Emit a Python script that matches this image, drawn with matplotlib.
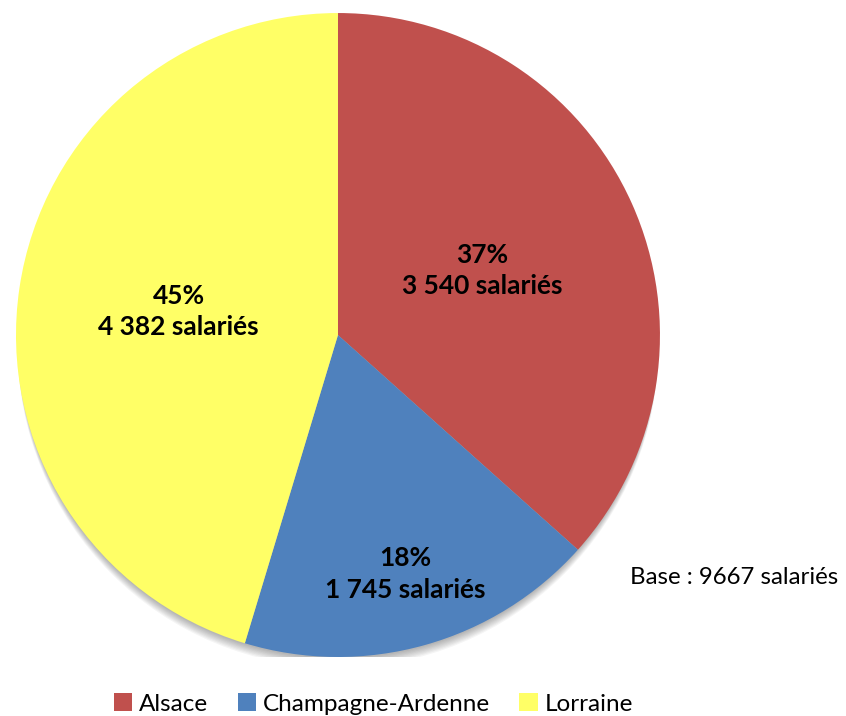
import numpy as np
import matplotlib.pyplot as plt
from matplotlib.patches import Circle

regions = ['Alsace', 'Champagne-Ardenne', 'Lorraine']
salaries = [3540, 1745, 4382]
pcts = ['37%', '18%', '45%']
counts = ['3 540', '1 745', '4 382']
colors = ['#C0504D', '#4F81BD', '#FFFF66']
label_dist = [0.49, 0.77, 0.50]

plt.rcParams['font.family'] = ['Lato', 'DejaVu Sans']

fig = plt.figure(figsize=(8.46, 7.16), dpi=100)
ax = fig.add_axes([0.0189, 0.0824, 0.7612, 0.8994])

# soft shadow under the pie, mostly visible at the bottom
for i in range(8):
    ax.add_patch(Circle((0, -0.01 - i * 0.004), 0.995,
                        color='black', alpha=0.04, lw=0, zorder=0))

wedges, _ = ax.pie(salaries, colors=colors, startangle=90, counterclock=False,
                   radius=1, wedgeprops=dict(linewidth=0))
for w in wedges:
    w.set_zorder(2)

for w, p, c, d in zip(wedges, pcts, counts, label_dist):
    ang = np.deg2rad((w.theta1 + w.theta2) / 2)
    ax.text(d * np.cos(ang), d * np.sin(ang), p + '\n' + c + ' salariés',
            ha='center', va='center', fontsize=19, fontweight='bold',
            linespacing=1.38, zorder=3)

ax.set_xlim(-1, 1)
ax.set_ylim(-1, 1)
ax.set_aspect('equal')
ax.axis('off')

fig.text(630 / 846, 1 - 578 / 716, 'Base : 9667 salariés', fontsize=17.3,
         ha='left', va='center')

fig.legend(wedges, regions, loc='center', bbox_to_anchor=(0.4415, 1 - 704 / 716),
           ncol=3, frameon=False, fontsize=17.5, handlelength=0.75, handleheight=0.75,
           handletextpad=0.3, columnspacing=1.2, borderpad=0)

fig.savefig('out.png', dpi=100)
